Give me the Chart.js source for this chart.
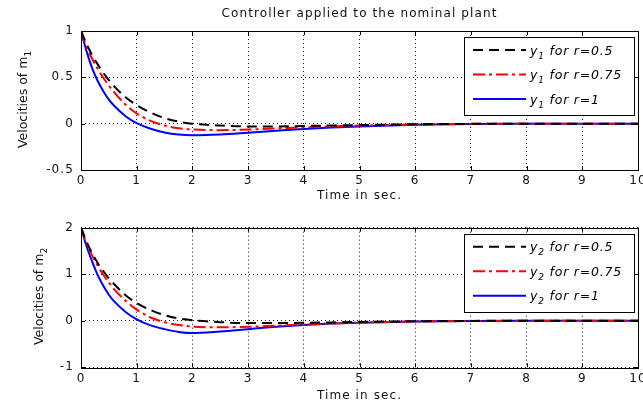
<!DOCTYPE html>
<html><head><meta charset="utf-8">
<script src="https://cdn.jsdelivr.net/npm/chart.js@4/dist/chart.umd.min.js"></script>
<style>
html,body{margin:0;padding:0;background:#fff;overflow:hidden;width:643px;height:405px;position:relative;}
#c1{position:absolute;left:0;top:0;}
#c2{position:absolute;left:0;top:203px;}
</style></head><body>
<canvas id="c1" width="665" height="203"></canvas>
<canvas id="c2" width="665" height="202"></canvas>
<script>
// ---- data ----
const time = [0, 0.1, 0.2, 0.3, 0.4, 0.5, 0.6, 0.8, 1, 1.25, 1.5, 1.75, 2, 2.5, 3, 3.5, 4, 4.5, 5, 6, 7, 8, 9, 10];

const m1_r050 = [1, 0.86, 0.74, 0.64, 0.55, 0.47, 0.40, 0.285, 0.20, 0.12, 0.06, 0.022, 0.0, -0.02, -0.03, -0.03, -0.025, -0.02, -0.015, -0.006, -0.002, 0, 0, 0];
const m1_r075 = [1, 0.83, 0.70, 0.59, 0.495, 0.41, 0.335, 0.205, 0.11, 0.03, -0.02, -0.05, -0.063, -0.07, -0.063, -0.052, -0.04, -0.03, -0.02, -0.009, -0.003, 0, 0, 0];
const m1_r100 = [1, 0.78, 0.60, 0.46, 0.35, 0.26, 0.19, 0.08, 0.005, -0.055, -0.095, -0.118, -0.126, -0.118, -0.098, -0.077, -0.057, -0.042, -0.03, -0.013, -0.004, -0.001, 0, 0];

const m2_r050 = [2, 1.70, 1.45, 1.24, 1.07, 0.91, 0.78, 0.55, 0.38, 0.23, 0.12, 0.05, 0.01, -0.03, -0.05, -0.05, -0.045, -0.035, -0.025, -0.01, -0.003, 0, 0, 0];
const m2_r075 = [2, 1.66, 1.40, 1.18, 0.99, 0.82, 0.67, 0.43, 0.24, 0.07, -0.03, -0.09, -0.125, -0.14, -0.13, -0.105, -0.08, -0.06, -0.04, -0.017, -0.006, 0, 0, 0];
const m2_r100 = [2, 1.60, 1.27, 0.98, 0.75, 0.56, 0.41, 0.19, 0.03, -0.10, -0.18, -0.24, -0.265, -0.23, -0.18, -0.13, -0.09, -0.06, -0.04, -0.015, -0.005, -0.001, 0, 0];

const labels1 = ['y\u2081 for r=0.5', 'y\u2081 for r=0.75', 'y\u2081 for r=1'];
const labels2 = ['y\u2082 for r=0.5', 'y\u2082 for r=0.75', 'y\u2082 for r=1'];

const xTicks = [0, 1, 2, 3, 4, 5, 6, 7, 8, 9, 10];
const y1Ticks = [-0.5, 0, 0.5, 1];
const y2Ticks = [-1, 0, 1, 2];

const titleText = 'Controller applied to the nominal plant';
const xTitle = 'Time in sec.';
const yTitle1 = 'Velocities of m\u2081';
const yTitle2 = 'Velocities of m\u2082';

// ---- styles ----
const FONT = "'DejaVu Sans', sans-serif";
const SPACING = '1.1px';
Chart.defaults.font.family = FONT;
Chart.defaults.font.size = 12;
Chart.defaults.color = '#111';

const styles = [
  {borderColor: '#000000', borderDash: [10, 6], borderWidth: 2},
  {borderColor: '#ff0000', borderDash: [12, 4, 3, 4], borderWidth: 2},
  {borderColor: '#0000ff', borderDash: [], borderWidth: 2}
];

function pts(arr) { return time.map((t, i) => ({x: t, y: arr[i]})); }

// draw a string whose unicode subscript digit is rendered as a small lowered digit
function drawSub(ctx, lab, x, base, size, style) {
  const m = lab.match(/[\u2080-\u2089]/);
  const f = (s) => (style ? style + ' ' : '') + s + 'px ' + FONT;
  if (!m) { ctx.font = f(size); ctx.fillText(lab, x, base); return; }
  const k = m.index;
  const pre = lab.slice(0, k), sub = String(lab.charCodeAt(k) - 0x2080), rest = lab.slice(k + 1);
  ctx.font = f(size); ctx.fillText(pre, x, base); x += ctx.measureText(pre).width;
  ctx.font = f(Math.round(size * 0.72)); ctx.fillText(sub, x, base + size * 0.33); x += ctx.measureText(sub).width;
  ctx.font = f(size); ctx.fillText(rest, x, base);
}
function subWidth(ctx, lab, size, style) {
  const m = lab.match(/[\u2080-\u2089]/);
  const f = (s) => (style ? style + ' ' : '') + s + 'px ' + FONT;
  if (!m) { ctx.font = f(size); return ctx.measureText(lab).width; }
  const k = m.index;
  ctx.font = f(size);
  let w = ctx.measureText(lab.slice(0, k)).width + ctx.measureText(lab.slice(k + 1)).width;
  ctx.font = f(Math.round(size * 0.72));
  return w + ctx.measureText(String(lab.charCodeAt(k) - 0x2080)).width;
}

const spacing = {
  id: 'spacing',
  beforeUpdate(c) { c.ctx.letterSpacing = SPACING; },
  beforeDraw(c) { c.ctx.letterSpacing = SPACING; }
};

const frame = {
  id: 'frame',
  afterDatasetsDraw(chart, args, opts) {
    const {ctx, chartArea: a, scales} = chart;
    ctx.save();
    ctx.setLineDash([]);
    ctx.strokeStyle = '#000';
    ctx.lineWidth = 1;
    // inward ticks
    const L = 4;
    ctx.beginPath();
    scales.x.ticks.forEach(t => {
      const p = Math.round(scales.x.getPixelForValue(t.value)) + 0.5;
      ctx.moveTo(p, a.bottom); ctx.lineTo(p, a.bottom - L);
      ctx.moveTo(p, a.top); ctx.lineTo(p, a.top + L);
    });
    scales.y.ticks.forEach(t => {
      const p = Math.round(scales.y.getPixelForValue(t.value)) + 0.5;
      ctx.moveTo(a.left, p); ctx.lineTo(a.left + L, p);
      ctx.moveTo(a.right, p); ctx.lineTo(a.right - L, p);
    });
    ctx.stroke();
    ctx.strokeRect(Math.round(a.left) + 0.5, Math.round(a.top) + 0.5,
                   Math.round(a.right - a.left), Math.round(a.bottom - a.top));
    // legend
    const bx = Math.round(a.right - 174) + 0.5, by = Math.round(a.top + 6) + 0.5;
    ctx.fillStyle = '#fff';
    ctx.fillRect(bx, by, 170, 78);
    ctx.strokeRect(bx, by, 170, 78);
    chart.data.datasets.forEach((ds, i) => {
      const yy = a.top + 19 + i * 24.5;
      ctx.save();
      ctx.strokeStyle = ds.borderColor;
      ctx.lineWidth = ds.borderWidth;
      ctx.setLineDash(ds.borderDash || []);
      ctx.beginPath();
      ctx.moveTo(a.right - 165, yy); ctx.lineTo(a.right - 112, yy);
      ctx.stroke();
      ctx.restore();
      ctx.fillStyle = '#000';
      ctx.textBaseline = 'alphabetic';
      ctx.textAlign = 'left';
      ctx.letterSpacing = '0.8px';
      drawSub(ctx, ds.label, a.right - 108, yy + 4.5, 12.5, 'italic');
    });
    // y-axis title with subscript
    ctx.save();
    ctx.letterSpacing = '0px';
    ctx.fillStyle = '#111';
    ctx.textBaseline = 'alphabetic';
    ctx.textAlign = 'left';
    const cy = (a.top + a.bottom) / 2 - 1;
    const w = subWidth(ctx, opts.yTitle, 12.5, '');
    ctx.translate(opts.yBase, cy);
    ctx.rotate(-Math.PI / 2);
    drawSub(ctx, opts.yTitle, -w / 2, 0, 12.5, '');
    ctx.restore();
    ctx.restore();
  }
};

function makeChart(id, series, labels, yTicks, yTitle, opts) {
  return new Chart(document.getElementById(id), {
    type: 'line',
    data: {
      datasets: series.map((s, i) => Object.assign({
        label: labels[i], data: pts(s), fill: false, pointRadius: 0,
        cubicInterpolationMode: 'monotone'
      }, styles[i]))
    },
    options: {
      responsive: false, animation: false,
      layout: {padding: opts.padding},
      plugins: {
        legend: {display: false}, tooltip: {enabled: false},
        title: opts.title ? {display: true, text: titleText, color: '#111', fullSize: false,
          font: {size: 12, weight: 'normal'}, padding: {top: 7, bottom: 9.6}} : {display: false},
        frame: {yTitle: yTitle, yBase: opts.yBase}
      },
      scales: {
        x: {
          type: 'linear', min: 0, max: 10,
          afterBuildTicks: s => { s.ticks = xTicks.map(v => ({value: v})); },
          afterFit: s => { s.height = opts.xh; },
          ticks: {padding: 4, color: '#111', font: {size: 12}, maxRotation: 0, autoSkip: false,
                  callback: v => String(v)},
          grid: {color: 'rgba(0,0,0,0.9)', lineWidth: 1, drawTicks: false},
          border: {display: false, dash: [1, 3]},
          title: {display: true, text: xTitle, color: '#111', font: {size: 12}, padding: 0}
        },
        y: {
          min: yTicks[0], max: yTicks[yTicks.length - 1],
          afterBuildTicks: s => { s.ticks = yTicks.map(v => ({value: v})); },
          afterFit: s => { s.width = 73; },
          ticks: {padding: 7, color: '#111', font: {size: 12}, autoSkip: false,
                  callback: v => String(v)},
          grid: {color: 'rgba(0,0,0,0.9)', lineWidth: 1, drawTicks: false},
          border: {display: false, dash: [1, 3]},
          title: {display: false}
        }
      }
    },
    plugins: [spacing, frame]
  });
}

makeChart('c1', [m1_r050, m1_r075, m1_r100], labels1, y1Ticks, yTitle1,
  {title: true, padding: {left: 8, right: 27, top: 0, bottom: 0}, xh: 33, yBase: 27});
makeChart('c2', [m2_r050, m2_r075, m2_r100], labels2, y2Ticks, yTitle2,
  {title: false, padding: {left: 8, right: 27, top: 24.7, bottom: 2}, xh: 35.7, yBase: 42.5});
</script>
</body></html>
